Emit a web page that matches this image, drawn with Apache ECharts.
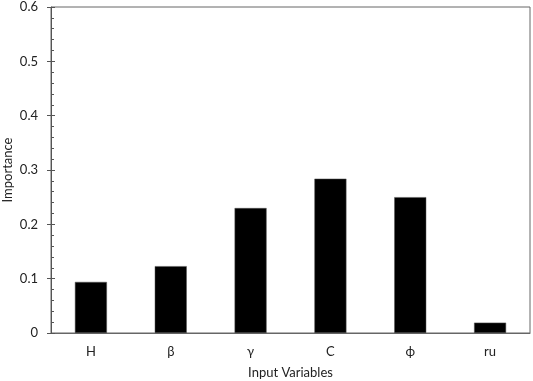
<!DOCTYPE html>
<html><head><meta charset="utf-8">
<script src="https://cdn.jsdelivr.net/npm/echarts@6/dist/echarts.min.js"></script>
<style>html,body{margin:0;padding:0;background:#fff}#c{width:533px;height:381px}</style>
</head><body><div id="c"></div>
<script>
const categories = ['H', 'β', 'γ', 'C', 'ϕ', 'ru'];
const importance = [0.094, 0.123, 0.230, 0.284, 0.250, 0.019];
const yTicks = ['0', '0.1', '0.2', '0.3', '0.4', '0.5', '0.6'];

const font = 'Lato, "Open Sans", sans-serif';
const chart = echarts.init(document.getElementById('c'), null, {renderer: 'canvas'});
const yBase = {
  type: 'value', min: 0, max: 0.6, interval: 0.1,
  splitLine: {show: false}
};
chart.setOption({
  animation: false,
  grid: {left: 51, right: 3, top: 7, bottom: 48, show: true, borderColor: '#666', borderWidth: 1,
    containLabel: false, outerBoundsMode: 'none'},
  xAxis: {
    type: 'category', data: categories,
    name: 'Input Variables', nameLocation: 'middle', nameGap: 33, nameMoveOverlap: false,
    nameTextStyle: {color: '#222', fontSize: 13, fontFamily: font},
    axisLine: {lineStyle: {color: '#666', width: 1}},
    axisTick: {show: false},
    axisLabel: {color: '#222', fontSize: 13, fontFamily: font, margin: 12}
  },
  yAxis: [
    Object.assign({}, yBase, {
      name: 'Importance', nameLocation: 'middle', nameGap: 37, nameMoveOverlap: false,
      nameTextStyle: {color: '#222', fontSize: 13, fontFamily: font},
      axisLine: {show: true, lineStyle: {color: '#555', width: 1}},
      axisTick: {show: true, inside: false, length: 4, lineStyle: {color: '#555'}},
      axisLabel: {color: '#222', fontSize: 13, fontFamily: font, margin: 13,
        formatter: v => yTicks[Math.round(v * 10)]}
    }),
    Object.assign({}, yBase, {
      position: 'left',
      axisLine: {show: false},
      axisLabel: {show: false},
      axisTick: {show: true, inside: true, length: 4, lineStyle: {color: '#555'}},
      minorTick: {show: true, splitNumber: 5, length: 3, lineStyle: {color: '#555'}}
    })
  ],
  series: [{
    type: 'bar', data: importance, barWidth: 32,
    itemStyle: {color: '#000', borderColor: '#555', borderWidth: 0.5}
  }]
});
</script></body></html>
